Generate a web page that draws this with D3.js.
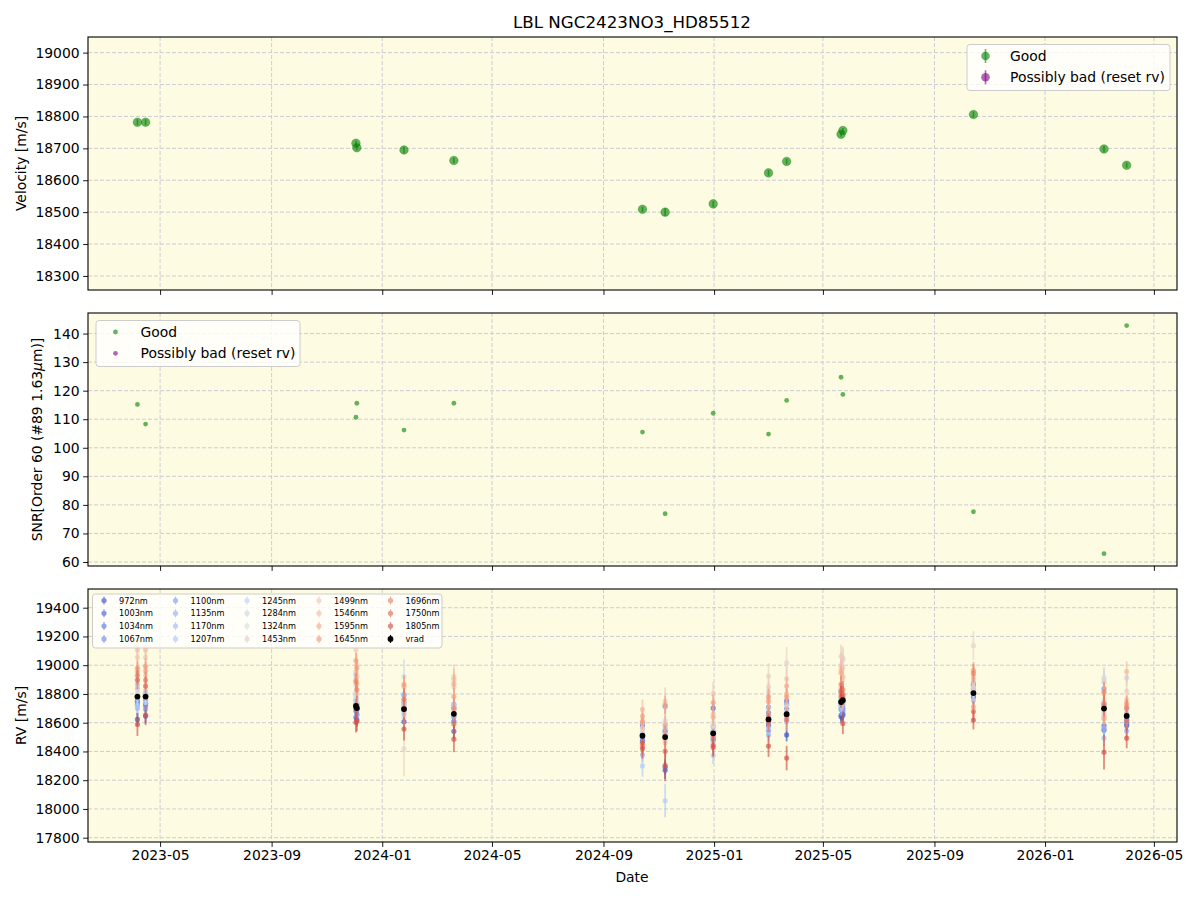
<!DOCTYPE html>
<html>
<head>
<meta charset="utf-8">
<script src="https://cdn.jsdelivr.net/npm/d3@7"></script>
<style>
  body { margin: 0; background: #fff; }
  text { font-family: "DejaVu Sans", sans-serif; }
</style>
</head>
<body>
<div id="chart"></div>
<script>
// observation dates (16 epochs)
const dates = ['2023-04-06', '2023-04-15', '2023-12-03', '2023-12-04', '2024-01-25', '2024-03-20',
  '2024-10-14', '2024-11-08', '2024-12-31', '2025-03-02', '2025-03-22', '2025-05-21', '2025-05-23',
  '2025-10-14', '2026-03-07', '2026-04-01'];

// top panel: vrad
const velocity = [18782, 18782, 18716, 18702, 18695, 18662, 18509, 18500, 18526, 18623, 18659, 18744, 18756, 18806, 18698, 18647];
const velocityErr = [9, 9, 8, 8, 10, 9, 8, 12, 9, 9, 9, 8, 8, 10, 10, 8];

// middle panel: SNR
const snr = [115.2, 108.3, 110.7, 115.6, 106.2, 115.6, 105.5, 76.9, 112.1, 104.8, 116.6, 124.7, 118.7, 77.6, 62.9, 142.8];

// bottom panel: per-band RVs
const rv972 = [18623, 18646, 18637, 18620, 18607, 18540, 18470, 18269, 18483, 18579, 18515, 18641, 18660, 18780, 18549, 18591];
const rv1003 = [18745, 18733, 18683, 18660, 18700, 18610, 18595, 18290, 18701, 18706, 18752, 18653, 18650, 18871, 18579, 18579];
const rv1034 = [18726, 18717, 18700, 18690, 18740, 18640, 18577, 18543, 18520, 18671, 18729, 18821, 18700, 18855, 18733, 18620];
const rv1067 = [18760, 18760, 18720, 18700, 18791, 18700, 18487, 18713, 18540, 18545, 18700, 18690, 18680, 18830, 18837, 18660];
const rv1100 = [18839, 18694, 18760, 18730, 18720, 18729, 18500, 18533, 18572, 18600, 18690, 18717, 18720, 18860, 18700, 18600];
const rv1135 = [18700, 18780, 18740, 18650, 18660, 18713, 18377, 18591, 18500, 18515, 18640, 18700, 18780, 18800, 18560, 18543];
const rv1170 = [18867, 18807, 18933, 18700, 18800, 18694, 18530, 18560, 18470, 18640, 18660, 18760, 18740, 18756, 18492, 18640];
const rv1207 = [18720, 18740, 18790, 18740, 18680, 18650, 18299, 18057, 18372, 18560, 18610, 18730, 18760, 18840, 18650, 18700];
const rv1245 = [18780, 18821, 18809, 18720, 18637, 18720, 18556, 18480, 18453, 18620, 18607, 18998, 18800, 18880, 18894, 18913];
const rv1284 = [18810, 18790, 18760, 18770, 18920, 18690, 18520, 18520, 18560, 18816, 18680, 18800, 19051, 18820, 18913, 18680];
const rv1324 = [18840, 18850, 18780, 18740, 18760, 18700, 18540, 18600, 18600, 18700, 18720, 18850, 18900, 18850, 18760, 18720];
const rv1453 = [18900, 18930, 18860, 18800, 18418, 18848, 18560, 18614, 18580, 18924, 19016, 19000, 19040, 19136, 18880, 18818];
const rv1499 = [19055, 19055, 19108, 19000, 18730, 18920, 18600, 18750, 18802, 18850, 18906, 19062, 18980, 18920, 18800, 18760];
const rv1546 = [19108, 19108, 18954, 18920, 18700, 18901, 18692, 18460, 18660, 18760, 18800, 18970, 18920, 18900, 18671, 18956];
const rv1595 = [18956, 18960, 18901, 18870, 18851, 18870, 18644, 18580, 18637, 18747, 18855, 18947, 18740, 18710, 18740, 18713];
const rv1645 = [18979, 18991, 19032, 18980, 18867, 18782, 18610, 18724, 18740, 18782, 18779, 18832, 18800, 18963, 18630, 18733];
const rv1696 = [18930, 18897, 18885, 18830, 18690, 18700, 18437, 18510, 18499, 18650, 18650, 18867, 18830, 18943, 18814, 18700];
const rv1750 = [18897, 18855, 18701, 18720, 18763, 18591, 18457, 18402, 18425, 18600, 18620, 18809, 18790, 18678, 18720, 18614];
const rv1805 = [18588, 18653, 18602, 18610, 18556, 18485, 18420, 18303, 18440, 18437, 18354, 18780, 18595, 18618, 18395, 18492];

const err972 = [45, 50, 45, 45, 55, 50, 45, 60, 45, 45, 45, 40, 45, 50, 55, 45];
const err1003 = [40, 45, 40, 40, 50, 45, 40, 55, 40, 40, 40, 40, 40, 45, 50, 40];
const err1034 = [40, 40, 40, 40, 50, 45, 40, 50, 40, 40, 40, 40, 40, 45, 50, 40];
const err1067 = [40, 40, 40, 40, 50, 45, 40, 50, 40, 40, 40, 40, 40, 45, 50, 40];
const err1100 = [45, 45, 45, 45, 55, 50, 45, 55, 45, 45, 45, 45, 45, 50, 55, 45];
const err1135 = [50, 50, 50, 50, 60, 55, 50, 60, 50, 50, 50, 50, 50, 55, 60, 50];
const err1170 = [50, 50, 50, 50, 60, 55, 50, 60, 50, 50, 50, 50, 50, 55, 60, 50];
const err1207 = [55, 55, 55, 55, 65, 60, 75, 115, 60, 55, 55, 55, 55, 60, 65, 55];
const err1245 = [60, 60, 60, 60, 70, 65, 60, 70, 60, 60, 60, 60, 60, 65, 70, 60];
const err1284 = [65, 65, 65, 65, 120, 70, 65, 75, 65, 65, 65, 65, 65, 70, 75, 65];
const err1324 = [70, 70, 70, 70, 80, 75, 70, 80, 70, 70, 70, 70, 70, 75, 80, 70];
const err1453 = [90, 90, 85, 85, 190, 95, 85, 100, 85, 90, 110, 90, 90, 100, 100, 90];
const err1499 = [80, 80, 80, 80, 90, 85, 80, 95, 80, 80, 85, 80, 80, 85, 90, 80];
const err1546 = [70, 70, 70, 70, 80, 75, 70, 80, 70, 70, 70, 70, 70, 75, 80, 70];
const err1595 = [60, 60, 60, 60, 70, 65, 60, 70, 60, 60, 60, 60, 60, 65, 70, 60];
const err1645 = [55, 55, 55, 55, 65, 60, 55, 65, 55, 55, 55, 55, 55, 60, 65, 55];
const err1696 = [60, 60, 60, 60, 70, 65, 60, 70, 60, 60, 60, 60, 60, 65, 70, 60];
const err1750 = [65, 65, 65, 65, 75, 70, 65, 75, 65, 65, 65, 65, 65, 70, 75, 65];
const err1805 = [80, 70, 70, 70, 80, 90, 70, 110, 70, 75, 85, 75, 75, 65, 120, 70];

const wavelengths = [972, 1003, 1034, 1067, 1100, 1135, 1170, 1207, 1245, 1284, 1324, 1453, 1499, 1546, 1595, 1645, 1696, 1750, 1805];
const bandRv = [rv972, rv1003, rv1034, rv1067, rv1100, rv1135, rv1170, rv1207, rv1245, rv1284, rv1324, rv1453, rv1499, rv1546, rv1595, rv1645, rv1696, rv1750, rv1805];
const bandErr = [err972, err1003, err1034, err1067, err1100, err1135, err1170, err1207, err1245, err1284, err1324, err1453, err1499, err1546, err1595, err1645, err1696, err1750, err1805];

const velocityTicks = [18300, 18400, 18500, 18600, 18700, 18800, 18900, 19000];
const snrTicks = [60, 70, 80, 90, 100, 110, 120, 130, 140];
const rvTicks = [17800, 18000, 18200, 18400, 18600, 18800, 19000, 19200, 19400];

// ---------------------------------------------------------------
const W = 1200, H = 900;
const left = 88, right = 1177;
const panels = [
  { top: 37, bottom: 290 },
  { top: 313, bottom: 566 },
  { top: 589, bottom: 842 },
];
const bg = '#fdfbe1';
const gridColor = '#cdcdd6';

const svg = d3.select('#chart').append('svg')
  .attr('width', W).attr('height', H);

const parse = d3.utcParse('%Y-%m-%d');
const t = dates.map(parse);

const x = d3.scaleUtc()
  .domain([new Date(Date.UTC(2023, 1, 10, 12)), new Date(Date.UTC(2026, 4, 26, 12))])
  .range([left, right]);
const xTicks = x.ticks(d3.utcMonth.every(4));

const yTop = d3.scaleLinear().domain([18256, 19049]).range([panels[0].bottom, panels[0].top]);
const ySnr = d3.scaleLinear().domain([58.6, 147.2]).range([panels[1].bottom, panels[1].top]);
const yRv = d3.scaleLinear().domain([17770, 19530]).range([panels[2].bottom, panels[2].top]);

// coolwarm colormap, sampled over the legend entries
const coolwarm = d3.scaleLinear()
  .domain([0, 0.125, 0.25, 0.375, 0.5, 0.625, 0.75, 0.875, 1])
  .range(['#3b4cc0', '#6282ea', '#8db0fe', '#b8d0f9', '#dddddd', '#f5c4ad', '#f49a7b', '#de604d', '#b40426']);
const bandColor = i => coolwarm(i / (wavelengths.length + 1));
const bandAlpha = 0.65;

function frame(p, y, ticks, idx, showX) {
  const g = svg.append('g');
  g.append('rect')
    .attr('x', left).attr('y', p.top)
    .attr('width', right - left).attr('height', p.bottom - p.top)
    .attr('fill', bg);

  // grid
  g.selectAll('.gx').data(xTicks).join('line')
    .attr('x1', d => x(d)).attr('x2', d => x(d))
    .attr('y1', p.top).attr('y2', p.bottom)
    .attr('stroke', gridColor).attr('stroke-width', 1).attr('stroke-dasharray', '4,2');
  g.selectAll('.gy').data(ticks).join('line')
    .attr('x1', left).attr('x2', right)
    .attr('y1', d => y(d)).attr('y2', d => y(d))
    .attr('stroke', gridColor).attr('stroke-width', 1).attr('stroke-dasharray', '4,2');

  const yAxis = g.append('g')
    .attr('transform', `translate(${left},0)`)
    .call(d3.axisLeft(y).tickValues(ticks).tickSize(4.9).tickPadding(3.5).tickFormat(d3.format('d')));
  const xAxis = g.append('g')
    .attr('transform', `translate(0,${p.bottom})`)
    .call(d3.axisBottom(x).tickValues(xTicks).tickSize(4.9).tickPadding(3.5)
      .tickFormat(showX ? d3.utcFormat('%Y-%m') : () => ''));
  [yAxis, xAxis].forEach(a => {
    a.select('.domain').remove();
    a.selectAll('line').attr('stroke', '#000').attr('stroke-width', 0.9);
    a.selectAll('text').attr('font-size', 13.9).attr('fill', '#000')
      .attr('font-family', '"DejaVu Sans", sans-serif');
  });

  svg.append('clipPath').attr('id', 'clip' + idx)
    .append('rect')
    .attr('x', left).attr('y', p.top)
    .attr('width', right - left).attr('height', p.bottom - p.top);
  return g.append('g').attr('clip-path', `url(#clip${idx})`);
}

function border(p) {
  svg.append('rect')
    .attr('x', left).attr('y', p.top)
    .attr('width', right - left).attr('height', p.bottom - p.top)
    .attr('fill', 'none').attr('stroke', '#000').attr('stroke-width', 1.1);
}

// ---- top panel ----
const g1 = frame(panels[0], yTop, velocityTicks, 0, false);
g1.selectAll('.eb').data(velocity).join('line')
  .attr('x1', (d, i) => x(t[i])).attr('x2', (d, i) => x(t[i]))
  .attr('y1', (d, i) => yTop(d - velocityErr[i])).attr('y2', (d, i) => yTop(d + velocityErr[i]))
  .attr('stroke', 'green').attr('stroke-opacity', 0.6).attr('stroke-width', 1.6);
g1.selectAll('.pt').data(velocity).join('circle')
  .attr('cx', (d, i) => x(t[i])).attr('cy', d => yTop(d))
  .attr('r', 4.3).attr('fill', 'green').attr('fill-opacity', 0.6)
  .attr('stroke', 'green').attr('stroke-opacity', 0.4).attr('stroke-width', 0.8);
border(panels[0]);

// ---- middle panel ----
const g2 = frame(panels[1], ySnr, snrTicks, 1, false);
g2.selectAll('.pt').data(snr).join('circle')
  .attr('cx', (d, i) => x(t[i])).attr('cy', d => ySnr(d))
  .attr('r', 2.4).attr('fill', 'green').attr('fill-opacity', 0.6);
border(panels[1]);

// ---- bottom panel ----
const g3 = frame(panels[2], yRv, rvTicks, 2, true);
wavelengths.forEach((nm, b) => {
  const c = bandColor(b);
  const gb = g3.append('g');
  gb.selectAll('line').data(bandRv[b]).join('line')
    .attr('x1', (d, i) => x(t[i])).attr('x2', (d, i) => x(t[i]))
    .attr('y1', (d, i) => yRv(d - bandErr[b][i])).attr('y2', (d, i) => yRv(d + bandErr[b][i]))
    .attr('stroke', c).attr('stroke-opacity', bandAlpha).attr('stroke-width', 1.8);
  gb.selectAll('circle').data(bandRv[b]).join('circle')
    .attr('cx', (d, i) => x(t[i])).attr('cy', d => yRv(d))
    .attr('r', 2.6).attr('fill', c).attr('fill-opacity', bandAlpha);
});
const gv = g3.append('g');
gv.selectAll('line').data(velocity).join('line')
  .attr('x1', (d, i) => x(t[i])).attr('x2', (d, i) => x(t[i]))
  .attr('y1', (d, i) => yRv(d - velocityErr[i])).attr('y2', (d, i) => yRv(d + velocityErr[i]))
  .attr('stroke', '#000').attr('stroke-width', 1.2);
gv.selectAll('circle').data(velocity).join('circle')
  .attr('cx', (d, i) => x(t[i])).attr('cy', d => yRv(d))
  .attr('r', 2.9).attr('fill', '#000');
border(panels[2]);

// ---- labels ----
svg.append('text').attr('x', 632).attr('y', 22)
  .attr('text-anchor', 'middle').attr('dominant-baseline', 'central')
  .attr('font-size', 16.7).text('LBL NGC2423NO3_HD85512');
svg.append('text').attr('x', 632).attr('y', 877)
  .attr('text-anchor', 'middle').attr('dominant-baseline', 'central')
  .attr('font-size', 13.9).text('Date');

function ylabel(xp, yc, txt) {
  return svg.append('text')
    .attr('transform', `translate(${xp},${yc}) rotate(-90)`)
    .attr('text-anchor', 'middle').attr('dominant-baseline', 'central')
    .attr('font-size', 13.9).text(txt);
}
ylabel(21, (panels[0].top + panels[0].bottom) / 2, 'Velocity [m/s]');
const snrLab = ylabel(37, (panels[1].top + panels[1].bottom) / 2, 'SNR[Order 60 (#89 1.63');
snrLab.append('tspan').attr('font-style', 'italic').text('\u03bc');
snrLab.append('tspan').text('m)]');
ylabel(21, (panels[2].top + panels[2].bottom) / 2, 'RV [m/s]');

// ---- legends ----
function legendBox(x0, y0, w, h) {
  svg.append('rect').attr('x', x0).attr('y', y0).attr('width', w).attr('height', h)
    .attr('rx', 3).attr('fill', '#fff').attr('fill-opacity', 0.8)
    .attr('stroke', '#cccccc').attr('stroke-width', 1);
}
const legendLabels = ['Good', 'Possibly bad (reset rv)'];
const legendColors = ['green', 'purple'];

// top legend: errorbar markers
legendBox(967, 44.5, 203, 46);
legendLabels.forEach((lab, i) => {
  const yy = 56 + i * 21.3;
  svg.append('line').attr('x1', 985.5).attr('x2', 985.5).attr('y1', yy - 7).attr('y2', yy + 7)
    .attr('stroke', legendColors[i]).attr('stroke-opacity', 0.6).attr('stroke-width', 1.6);
  svg.append('circle').attr('cx', 985.5).attr('cy', yy).attr('r', 4.3)
    .attr('fill', legendColors[i]).attr('fill-opacity', 0.6);
  svg.append('text').attr('x', 1010).attr('y', yy).attr('dominant-baseline', 'central')
    .attr('font-size', 13.9).text(lab);
});

// middle legend: dots
legendBox(96, 320.5, 204, 46);
legendLabels.forEach((lab, i) => {
  const yy = 332 + i * 21.3;
  svg.append('circle').attr('cx', 115.5).attr('cy', yy).attr('r', 2.4)
    .attr('fill', legendColors[i]).attr('fill-opacity', 0.6);
  svg.append('text').attr('x', 140.5).attr('y', yy).attr('dominant-baseline', 'central')
    .attr('font-size', 13.9).text(lab);
});

// bottom legend: 5 columns
legendBox(92.5, 594, 349.5, 54);
const legItems = wavelengths.map((nm, b) => ({ label: nm + 'nm', color: bandColor(b), op: bandAlpha, r: 2.6 }))
  .concat([{ label: 'vrad', color: '#000', op: 1, r: 2.9 }]);
const colX = [104, 175.5, 247, 319, 390.5];
legItems.forEach((it, k) => {
  const col = Math.floor(k / 4), row = k % 4;
  const cx = colX[col], cy = 600.5 + row * 12.8;
  const gl = svg.append('g').attr('opacity', it.op);
  gl.append('line').attr('x1', cx).attr('x2', cx).attr('y1', cy - 4).attr('y2', cy + 4)
    .attr('stroke', it.color).attr('stroke-width', 1.2);
  gl.append('circle').attr('cx', cx).attr('cy', cy).attr('r', it.r).attr('fill', it.color);
  svg.append('text').attr('x', cx + 15).attr('y', cy).attr('dominant-baseline', 'central')
    .attr('font-size', 8.2).text(it.label);
});
</script>
</body>
</html>
